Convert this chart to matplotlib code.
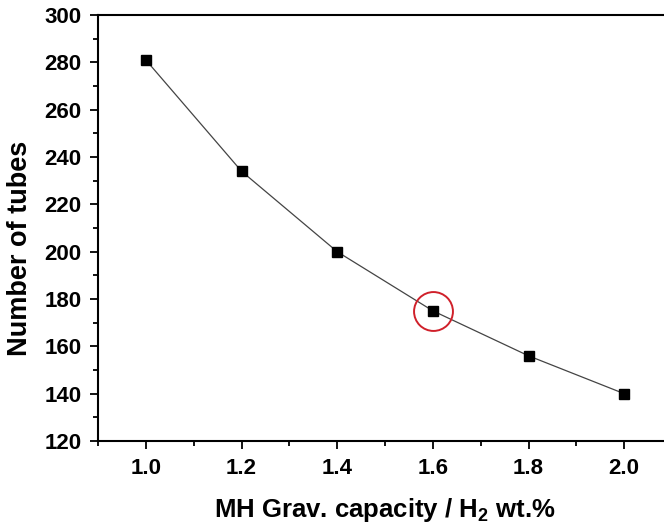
import matplotlib
matplotlib.use("Agg")
import matplotlib.pyplot as plt
from matplotlib.ticker import MultipleLocator

plt.rcParams['font.family'] = ['Liberation Sans', 'DejaVu Sans']
plt.rcParams['font.weight'] = 'bold'
plt.rcParams['mathtext.fontset'] = 'custom'
plt.rcParams['mathtext.bf'] = 'Liberation Sans:bold'

capacity = [1.0, 1.2, 1.4, 1.6, 1.8, 2.0]
tubes = [281, 234, 200, 175, 156, 140]
chosen_x = [1.6]
chosen_y = [175]

fig = plt.figure(figsize=(6.64, 5.22), dpi=100)
ax = fig.add_axes([98/664, 81/522, (672-98)/664, 426/522])

ax.plot(capacity, tubes, color='#444444', lw=0.9, marker='s', ms=7.5,
        mfc='black', mec='black')
ax.plot(chosen_x, chosen_y, 'o', ms=28, mfc='none', mec='#d0202a', mew=1.4)

ax.set_xlim(0.9, 2.1)
ax.set_ylim(120, 300)
ax.xaxis.set_major_locator(MultipleLocator(0.2))
ax.xaxis.set_minor_locator(MultipleLocator(0.1))
ax.yaxis.set_major_locator(MultipleLocator(20))
ax.yaxis.set_minor_locator(MultipleLocator(10))
ax.tick_params(which='major', direction='out', length=6, width=1.3, labelsize=16, pad=6)
ax.tick_params(which='minor', direction='out', length=3.5, width=1.3)
for lab in ax.get_xticklabels() + ax.get_yticklabels():
    lab.set_fontweight('bold')
for sp in ax.spines.values():
    sp.set_linewidth(1.5)

ax.set_xlabel('MH Grav. capacity / H$_\\mathbf{2}$ wt.%', fontsize=18.5, fontweight='bold')
ax.set_ylabel('Number of tubes', fontsize=19.5, fontweight='bold')
ax.xaxis.set_label_coords(0.5, -0.128)
ax.yaxis.set_label_coords(-0.113, 0.453)

fig.savefig('out.png', dpi=100)
